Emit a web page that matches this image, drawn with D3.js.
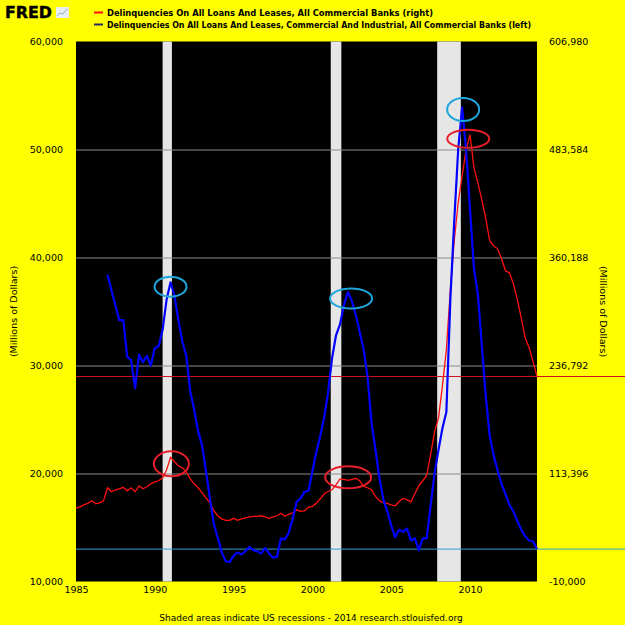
<!DOCTYPE html>
<html lang="en">
<head>
<meta charset="UTF-8">
<title>Delinquencies On All Loans And Leases</title>
<script src="https://d3js.org/d3.v7.min.js"></script>
<style>
  body { margin: 0; background: #ffff00; }
  svg { display: block; }
  text { font-family: "DejaVu Sans", Verdana, sans-serif; fill: #000; }
</style>
</head>
<body>
<script>
// quarterly series, millions of dollars
const redStart = "1985-01-01";   // all loans and leases (right axis)
const blueStart = "1987-01-01";  // commercial and industrial (left axis)

const redValues = [
  73600, 75300, 77600, 79300, 82200, 78800, 79900, 82200,
  97100, 92500, 94800, 95900, 97600, 93600, 97100, 92500,
  99300, 95900, 98200, 101600, 103900, 105100, 108500, 117600,
  131900, 126800, 122200, 119900, 115300, 107300, 101600, 97100,
  91300, 85600, 79900, 70800, 65100, 61600, 59900, 59900,
  62200, 59900, 61600, 62800, 63900, 64500, 64500, 65100,
  63900, 62200, 63900, 65100, 67900, 64500, 66800, 68500,
  71900, 70200, 70800, 74800, 75900, 79300, 84500, 90200,
  93100, 94800, 100500, 107300, 106800, 105600, 106800, 107900,
  105100, 98800, 97100, 94800, 87300, 82200, 80500, 79300,
  77600, 76500, 81100, 85100, 83300, 81100, 90200, 99300,
  105100, 110800, 134800, 161000, 177000, 213600, 254700, 323300,
  380400, 422700, 453500, 483200, 500400, 462700, 445500, 426100,
  404400, 379300, 373600, 370100, 358700, 345000, 342700, 330100,
  311900, 291300, 268400, 257000, 241000, 224200
];

const blueValues = [
  38400, 37000, 35600, 34200, 34200, 30800, 30500, 27900,
  31000, 30300, 30900, 30000, 31600, 31800, 33300, 36100,
  37700, 36500, 34200, 32200, 30900, 27600, 25900, 23900,
  22600, 20200, 17700, 15300, 14000, 12700, 11900, 11800,
  12400, 12700, 12500, 12800, 13200, 12900, 12800, 12600,
  13100, 12600, 12200, 12300, 14000, 13900, 14500, 15800,
  17400, 17700, 18300, 18400, 20200, 22000, 23500, 25200,
  27600, 30700, 32800, 33800, 35600, 36800, 36000, 34700,
  33100, 31500, 29000, 24700, 22200, 19600, 17600, 16500,
  15200, 14100, 14800, 14600, 14900, 13800, 14000, 12900,
  14000, 14000, 17000, 20000, 22200, 24200, 25700, 36100,
  43500, 50000, 53900, 50000, 44400, 39000, 36600, 31800,
  27100, 23500, 21700, 20300, 19000, 18100, 17100, 16500,
  15600, 14800, 14200, 13800, 13700, 13000
];

const leftTicks = [10000, 20000, 30000, 40000, 50000, 60000];
const rightTicks = [-10000, 113396, 236792, 360188, 483584, 606980];
const yearTicks = [1985, 1990, 1995, 2000, 2005, 2010];

const recessions = [
  ["1990-07-01", "1991-02-01"],
  ["2001-03-01", "2001-11-01"],
  ["2007-12-01", "2009-06-01"]
];

const legendLabels = [
  "Delinquencies On All Loans And Leases, All Commercial Banks (right)",
  "Delinquencies On All Loans And Leases, Commercial And Industrial, All Commercial Banks (left)"
];

// hand-drawn circles around the peaks: date, value, axis, radii
const peakMarks = [
  { date: "1991-01-01", value: 37300, axis: "left", rx: 16, ry: 10 },
  { date: "2002-06-15", value: 36200, axis: "left", rx: 21, ry: 10 },
  { date: "2009-07-25", value: 53700, axis: "left", rx: 16, ry: 11.5 },
  { date: "1991-01-20", value: 124500, axis: "right", rx: 17.5, ry: 12.5 },
  { date: "2002-04-08", value: 109000, axis: "right", rx: 23, ry: 11 },
  { date: "2009-11-20", value: 495800, axis: "right", rx: 21, ry: 9 }
];

const W = 625, H = 625;
const plotLeft = 76, plotRight = 537, plotTop = 41.5, plotBottom = 581.5;

const parse = d3.timeParse("%Y-%m-%d");
const quarterDates = (start, n) => d3.range(n).map(i => d3.timeMonth.offset(parse(start), 3 * i));

const red = quarterDates(redStart, redValues.length).map((d, i) => ({ date: d, value: redValues[i] }));
const blue = quarterDates(blueStart, blueValues.length).map((d, i) => ({ date: d, value: blueValues[i] }));

const x = d3.scaleTime()
  .domain([red[0].date, red[red.length - 1].date])
  .range([plotLeft, plotRight]);
const yL = d3.scaleLinear().domain([10000, 60000]).range([plotBottom, plotTop]);
const yR = d3.scaleLinear().domain([-10000, 606980]).range([plotBottom, plotTop]);

const svg = d3.select("body").append("svg")
  .attr("width", W)
  .attr("height", H);

svg.append("rect").attr("width", W).attr("height", H).attr("fill", "#ffff00");

// plot background
svg.append("rect")
  .attr("x", plotLeft).attr("y", plotTop)
  .attr("width", plotRight - plotLeft).attr("height", plotBottom - plotTop)
  .attr("fill", "#000");

// recession bars
svg.append("g").selectAll("rect")
  .data(recessions)
  .join("rect")
  .attr("x", d => x(parse(d[0])))
  .attr("y", plotTop)
  .attr("width", d => x(parse(d[1])) - x(parse(d[0])))
  .attr("height", plotBottom - plotTop)
  .attr("fill", "#e6e6e6");

// grid lines
svg.append("g")
  .attr("transform", `translate(${plotLeft},0)`)
  .call(d3.axisLeft(yL).tickValues(leftTicks.slice(1, -1)).tickSize(-(plotRight - plotLeft)).tickFormat(""))
  .call(g => g.select(".domain").remove())
  .call(g => g.selectAll("line").attr("stroke", "#8c8c8c").attr("stroke-width", 1));

// latest value lines
const lastRed = red[red.length - 1], lastBlue = blue[blue.length - 1];
svg.append("line")
  .attr("x1", plotLeft).attr("x2", W)
  .attr("y1", yR(lastRed.value)).attr("y2", yR(lastRed.value))
  .attr("stroke", "#cc1122").attr("stroke-width", 1);
svg.append("line")
  .attr("x1", plotLeft).attr("x2", W)
  .attr("y1", yL(lastBlue.value)).attr("y2", yL(lastBlue.value))
  .attr("stroke", "#2e9fd0").attr("stroke-width", 1);

// series
svg.append("path")
  .datum(red)
  .attr("fill", "none")
  .attr("stroke", "#ff1010")
  .attr("stroke-width", 1.3)
  .attr("d", d3.line().x(d => x(d.date)).y(d => yR(d.value)));

svg.append("path")
  .datum(blue)
  .attr("fill", "none")
  .attr("stroke", "#0000ff")
  .attr("stroke-width", 2.2)
  .attr("stroke-linejoin", "round")
  .attr("d", d3.line().x(d => x(d.date)).y(d => yL(d.value)));

// peak circles
svg.append("g").selectAll("ellipse")
  .data(peakMarks)
  .join("ellipse")
  .attr("cx", d => x(parse(d.date)))
  .attr("cy", d => d.axis === "left" ? yL(d.value) : yR(d.value))
  .attr("rx", d => d.rx)
  .attr("ry", d => d.ry)
  .attr("fill", "none")
  .attr("stroke", d => d.axis === "left" ? "#1fa6dc" : "#e8202c")
  .attr("stroke-width", 2);

// axes
const fmt = d3.format(",");
svg.append("g")
  .attr("transform", `translate(${plotLeft},0)`)
  .call(d3.axisLeft(yL).tickValues(leftTicks).tickSize(0).tickPadding(13).tickFormat(fmt))
  .call(g => g.select(".domain").remove())
  .call(g => g.selectAll("text").attr("font-size", 9.5).attr("font-family", "DejaVu Sans").attr("fill", "#000"));

svg.append("g")
  .attr("transform", `translate(${plotRight},0)`)
  .call(d3.axisRight(yR).tickValues(rightTicks).tickSize(0).tickPadding(12)
    .tickFormat(d => fmt(d).replace("\u2212", "-")))
  .call(g => g.select(".domain").remove())
  .call(g => g.selectAll("text").attr("font-size", 9.5).attr("font-family", "DejaVu Sans").attr("fill", "#000"));

svg.append("g")
  .attr("transform", `translate(0,${plotBottom})`)
  .call(d3.axisBottom(x).tickValues(yearTicks.map(y => new Date(y, 0, 1))).tickSize(0).tickPadding(5)
    .tickFormat(d3.timeFormat("%Y")))
  .call(g => g.select(".domain").remove())
  .call(g => g.selectAll("text").attr("font-size", 9.5).attr("font-family", "DejaVu Sans").attr("fill", "#000"));

// axis titles
const midY = (plotTop + plotBottom) / 2;
svg.append("text")
  .attr("transform", `translate(14,${midY}) rotate(-90)`)
  .attr("text-anchor", "middle").attr("dy", "0.35em")
  .attr("font-size", 9.5)
  .text("(Millions of Dollars)");
svg.append("text")
  .attr("transform", `translate(603,${midY}) rotate(90)`)
  .attr("text-anchor", "middle").attr("dy", "0.35em")
  .attr("font-size", 9.5)
  .text("(Millions of Dollars)");

// footer
svg.append("text")
  .attr("x", 311).attr("y", 618)
  .attr("text-anchor", "middle").attr("dy", "0.35em")
  .attr("font-size", 9)
  .text("Shaded areas indicate US recessions - 2014 research.stlouisfed.org");

// logo
svg.append("text")
  .attr("x", 5).attr("y", 18)
  .attr("font-size", 15).attr("font-weight", "900")
  .attr("stroke", "#000").attr("stroke-width", 0.4)
  .attr("textLength", 47).attr("lengthAdjust", "spacingAndGlyphs")
  .text("FRED");
const icon = svg.append("g").attr("transform", "translate(56,7)");
icon.append("rect").attr("width", 13).attr("height", 11).attr("fill", "#e9eef2");
icon.append("polyline")
  .attr("points", "1,9 4,6 7,7 10,3 12,2")
  .attr("fill", "none").attr("stroke", "#8fb0d0").attr("stroke-width", 1);

// legend
const legendColors = ["#ff1010", "#2a2a66"];
const legendWidths = [326, 424];
const legend = svg.append("g").selectAll("g")
  .data(legendLabels)
  .join("g")
  .attr("transform", (d, i) => `translate(94,${12.5 + i * 12})`);
legend.append("line")
  .attr("x1", 0).attr("x2", 9)
  .attr("stroke", (d, i) => legendColors[i]).attr("stroke-width", 2);
legend.append("text")
  .attr("x", 13).attr("dy", "0.35em")
  .attr("font-size", 9).attr("font-weight", "bold")
  .attr("textLength", (d, i) => legendWidths[i]).attr("lengthAdjust", "spacingAndGlyphs")
  .text(d => d);
</script>
</body>
</html>
